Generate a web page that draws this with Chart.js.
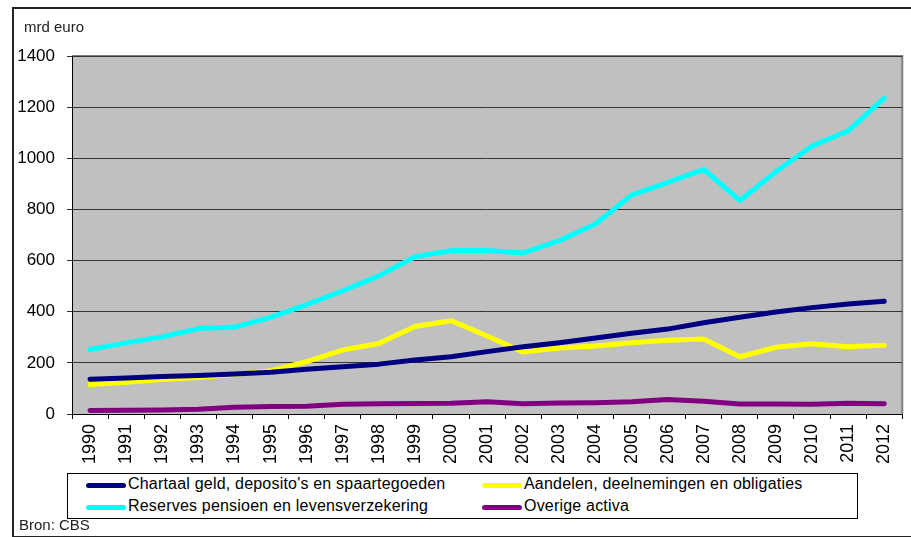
<!DOCTYPE html>
<html>
<head>
<meta charset="utf-8">
<script src="https://cdn.jsdelivr.net/npm/chart.js@4.4.1/dist/chart.umd.min.js"></script>
<style>
    body { margin: 0; background: #fff; font-family: "Liberation Sans", Arial, sans-serif; }
    #wrap { position: relative; width: 911px; height: 537px; overflow: hidden; }
    #frame { position: absolute; left: 12px; top: 7px; width: 920px; height: 527px; border: 2px solid #222; }
    #chart-box { position: absolute; left: 0; top: 0; width: 911px; height: 537px; }
    .note { position: absolute; color: #222; font-size: 15px; white-space: nowrap; }
    #legend { position: absolute; left: 67px; top: 473px; width: 789px; height: 44px; border: 1px solid #000; background: #fff; }
    .legend-item { position: absolute; height: 20px; font-size: 16px; letter-spacing: 0.2px; color: #000; white-space: nowrap; }
    .legend-item span.swatch { position: absolute; left: 0; top: 8px; width: 40px; height: 5px; border-radius: 3px; }
    .legend-item span.text { position: absolute; left: 42px; top: 0px; }
</style>
</head>
<body>
<div id="wrap">
    <div id="frame"></div>
    <div id="chart-box"><canvas id="assetsChart"></canvas></div>
    <div class="note" style="left:24px; top:18px;">mrd euro</div>
    <div id="legend"></div>
    <div class="note" style="left:19px; top:516px;">Bron: CBS</div>
</div>
<script>
// Data (mrd euro)
const years = ['1990', '1991', '1992', '1993', '1994', '1995', '1996', '1997', '1998', '1999', '2000',
    '2001', '2002', '2003', '2004', '2005', '2006', '2007', '2008', '2009', '2010', '2011', '2012'];
const chartaal = [136, 141, 147, 151, 156, 163, 175, 185, 195, 211, 224, 244, 263, 279, 297, 316, 332, 357, 378, 399, 416, 430, 441];
const aandelen = [115, 124, 135, 143, 154, 169, 205, 250, 276, 342, 365, 305, 242, 258, 266, 279, 288, 293, 224, 261, 275, 263, 269];
const reserves = [252, 278, 302, 334, 340, 378, 428, 482, 540, 615, 639, 639, 630, 678, 743, 856, 906, 957, 835, 948, 1048, 1107, 1235];
const overige = [14, 15, 16, 19, 26, 29, 30, 38, 40, 41, 42, 48, 40, 43, 44, 48, 57, 50, 39, 39, 38, 42, 40];
const yTicks = [0, 200, 400, 600, 800, 1000, 1200, 1400];

// Grey plot area with grey top/right border
const plotBackground = {
    id: 'plotBackground',
    beforeDraw(chart) {
        const { ctx, chartArea: a } = chart;
        ctx.save();
        ctx.fillStyle = '#c0c0c0';
        ctx.fillRect(a.left, a.top, a.width, a.height);
        ctx.strokeStyle = '#808080';
        ctx.lineWidth = 2;
        ctx.beginPath();
        ctx.moveTo(a.left, a.top);
        ctx.lineTo(a.right, a.top);
        ctx.lineTo(a.right, a.bottom);
        ctx.stroke();
        ctx.restore();
    }
};

function makeSeries(label, data, color) {
    return {
        label: label,
        data: data,
        borderColor: color,
        backgroundColor: color,
        borderWidth: 5,
        borderCapStyle: 'round',
        borderJoinStyle: 'round',
        pointRadius: 0,
        tension: 0,
        fill: false
    };
}

const ctx = document.getElementById('assetsChart').getContext('2d');
const chart = new Chart(ctx, {
    type: 'line',
    data: {
        labels: years,
        datasets: [
            makeSeries("Chartaal geld, deposito's en spaartegoeden", chartaal, '#000080'),
            makeSeries('Aandelen, deelnemingen en obligaties', aandelen, '#ffff00'),
            makeSeries('Reserves pensioen en levensverzekering', reserves, '#00ffff'),
            makeSeries('Overige activa', overige, '#800080')
        ]
    },
    options: {
        responsive: true,
        maintainAspectRatio: false,
        animation: false,
        layout: { padding: { left: 0, top: 56, right: 8, bottom: 67 } },
        plugins: {
            legend: { display: false },
            tooltip: { enabled: false }
        },
        scales: {
            x: {
                offset: true,
                grid: { offset: true, drawOnChartArea: false, drawTicks: true, tickLength: 5, color: '#000' },
                border: { color: '#000', width: 1 },
                ticks: {
                    color: '#000',
                    font: { family: '"Liberation Sans", Arial, sans-serif', size: 18 },
                    minRotation: 90,
                    maxRotation: 90,
                    autoSkip: false,
                    padding: 5
                },
                afterFit(scale) { scale.height = 56; }
            },
            y: {
                min: 0,
                max: 1400,
                afterBuildTicks(scale) { scale.ticks = yTicks.map(v => ({ value: v })); },
                grid: { color: '#333', lineWidth: 1, tickLength: 5 },
                border: { color: '#000', width: 1 },
                ticks: {
                    color: '#000',
                    font: { family: '"Liberation Sans", Arial, sans-serif', size: 17 },
                    padding: 12,
                    callback: value => String(value)
                },
                afterFit(scale) { scale.width = 72; }
            }
        }
    },
    plugins: [plotBackground]
});

// HTML legend in a box, two columns
const legend = document.getElementById('legend');
chart.data.datasets.forEach((ds, i) => {
    const item = document.createElement('div');
    item.className = 'legend-item';
    item.style.left = (i % 2 === 0 ? 18 : 414) + 'px';
    item.style.top = (i < 2 ? 1 : 23) + 'px';
    item.innerHTML = '<span class="swatch" style="background:' + ds.borderColor + '"></span><span class="text"></span>';
    item.querySelector('.text').textContent = ds.label;
    legend.appendChild(item);
});
</script>
</body>
</html>
